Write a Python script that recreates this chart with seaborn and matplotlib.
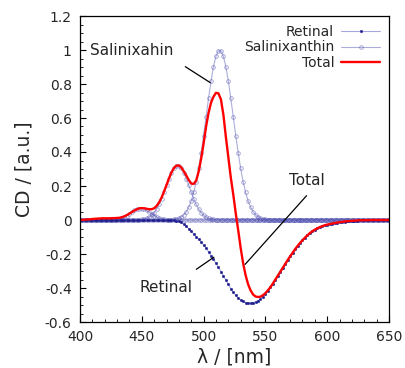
import matplotlib
matplotlib.use("Agg")
import matplotlib.pyplot as plt
import numpy as np
import pandas as pd
import seaborn as sns
from matplotlib.ticker import MultipleLocator, FuncFormatter

# wavelength grid (nm), one point every 2 nm
wavelength = list(range(400, 651, 2))

# Salinixanthin vibronic bands (one row = 20 nm)
sal_band1 = [
    0, 0, 0, 0, 0, 0, 0, 0, 0, 0,                                       # 400
    0, 0, 0, .001, .002, .004, .007, .012, .018, .026,                  # 420
    .036, .046, .056, .063, .067, .067, .063, .056, .046, .036,         # 440
    .026, .018, .012, .007, .004, .002, .001, 0, 0, 0,                  # 460
    0, 0, 0, 0, 0, 0, 0, 0, 0, 0,                                       # 480
    0, 0, 0, 0, 0, 0, 0, 0, 0, 0,                                       # 500
    0, 0, 0, 0, 0, 0, 0, 0, 0, 0,                                       # 520
    0, 0, 0, 0, 0, 0, 0, 0, 0, 0,                                       # 540
    0, 0, 0, 0, 0, 0, 0, 0, 0, 0,                                       # 560
    0, 0, 0, 0, 0, 0, 0, 0, 0, 0,                                       # 580
    0, 0, 0, 0, 0, 0, 0, 0, 0, 0,                                       # 600
    0, 0, 0, 0, 0, 0, 0, 0, 0, 0,                                       # 620
    0, 0, 0, 0, 0, 0,                                                   # 640
]
sal_band2 = [
    0, 0, 0, 0, 0, 0, 0, 0, 0, 0,                                       # 400
    0, 0, 0, 0, 0, 0, 0, 0, 0, 0,                                       # 420
    0, 0, 0, 0, .002, .003, .006, .010, .017, .028,                     # 440
    .043, .065, .092, .125, .164, .204, .244, .279, .304, .318,         # 460
    .318, .304, .279, .244, .204, .164, .125, .092, .065, .043,         # 480
    .028, .017, .010, .006, .003, .002, 0, 0, 0, 0,                     # 500
    0, 0, 0, 0, 0, 0, 0, 0, 0, 0,                                       # 520
    0, 0, 0, 0, 0, 0, 0, 0, 0, 0,                                       # 540
    0, 0, 0, 0, 0, 0, 0, 0, 0, 0,                                       # 560
    0, 0, 0, 0, 0, 0, 0, 0, 0, 0,                                       # 580
    0, 0, 0, 0, 0, 0, 0, 0, 0, 0,                                       # 600
    0, 0, 0, 0, 0, 0, 0, 0, 0, 0,                                       # 620
    0, 0, 0, 0, 0, 0,                                                   # 640
]
sal_band3 = [
    0, 0, 0, 0, 0, 0, 0, 0, 0, 0,                                       # 400
    0, 0, 0, 0, 0, 0, 0, 0, 0, 0,                                       # 420
    0, 0, 0, 0, 0, 0, 0, 0, 0, 0,                                       # 440
    0, 0, 0, 0, 0, 0, 0, .002, .004, .006,                              # 460
    .011, .019, .031, .049, .076, .112, .162, .225, .303, .395,         # 480
    .497, .607, .716, .817, .902, .963, .996, .996, .963, .902,         # 500
    .817, .716, .607, .497, .395, .303, .225, .162, .112, .076,         # 520
    .049, .031, .019, .011, .006, .004, .002, 0, 0, 0,                  # 540
    0, 0, 0, 0, 0, 0, 0, 0, 0, 0,                                       # 560
    0, 0, 0, 0, 0, 0, 0, 0, 0, 0,                                       # 580
    0, 0, 0, 0, 0, 0, 0, 0, 0, 0,                                       # 600
    0, 0, 0, 0, 0, 0, 0, 0, 0, 0,                                       # 620
    0, 0, 0, 0, 0, 0,                                                   # 640
]
retinal = [
    0, 0, 0, 0, 0, 0, 0, 0, 0, 0,                                       # 400
    0, 0, 0, 0, 0, 0, 0, 0, 0, 0,                                       # 420
    0, 0, 0, 0, 0, 0, 0, 0, 0, 0,                                       # 440
    0, 0, 0, 0, 0, 0, 0, -.001, -.002, -.004,                           # 460
    -.008, -.014, -.024, -.036, -.052, -.066, -.082, -.098, -.113, -.129,  # 480
    -.147, -.166, -.187, -.209, -.231, -.255, -.279, -.303, -.328, -.353,  # 500
    -.378, -.403, -.425, -.443, -.458, -.470, -.479, -.486, -.490, -.490,  # 520
    -.487, -.482, -.475, -.465, -.451, -.435, -.416, -.396, -.374, -.351,  # 540
    -.328, -.305, -.282, -.259, -.236, -.214, -.193, -.172, -.153, -.135,  # 560
    -.119, -.104, -.090, -.077, -.066, -.057, -.049, -.042, -.036, -.031,  # 580
    -.027, -.024, -.021, -.018, -.015, -.013, -.011, -.009, -.007, -.006,  # 600
    -.005, -.004, -.003, -.002, -.002, -.001, -.001, -.001, 0, 0,          # 620
    0, 0, 0, 0, 0, 0,                                                      # 640
]
total = [
    0, .001, .002, .003, .004, .006, .007, .008, .009, .010,               # 400
    .010, .010, .010, .011, .011, .012, .013, .017, .022, .029,            # 420
    .038, .047, .056, .063, .069, .070, .069, .066, .063, .064,            # 440
    .069, .083, .104, .132, .168, .206, .245, .280, .306, .320,            # 460
    .321, .309, .286, .262, .235, .215, .212, .232, .285, .360,            # 480
    .450, .550, .630, .690, .725, .748, .745, .710, .620, .490,            # 500
    .370, .250, .150, .040, -.060, -.165, -.255, -.325, -.378, -.414,      # 520
    -.438, -.450, -.453, -.451, -.443, -.430, -.414, -.396, -.374, -.351,  # 540
    -.328, -.305, -.282, -.259, -.236, -.214, -.193, -.172, -.153, -.135,  # 560
    -.119, -.104, -.090, -.077, -.066, -.057, -.049, -.042, -.036, -.031,  # 580
    -.027, -.024, -.021, -.018, -.015, -.013, -.011, -.009, -.007, -.006,  # 600
    -.005, -.004, -.003, -.002, -.002, -.001, -.001, -.001, 0, 0,          # 620
    0, 0, 0, 0, 0, 0,                                                      # 640
]

sal_df = pd.concat([
    pd.DataFrame({"wl": wavelength, "cd": band, "band": i})
    for i, band in enumerate([sal_band1, sal_band2, sal_band3])
])
ret_df = pd.DataFrame({"wl": wavelength, "cd": retinal})
tot_df = pd.DataFrame({"wl": wavelength, "cd": total})

sns.set_theme(style="ticks")
plt.rcParams['font.family'] = ['DejaVu Sans']
plt.rcParams['axes.unicode_minus'] = False

fig = plt.figure(figsize=(4.05, 3.68), dpi=100)
ax = fig.add_axes([80 / 405, 46 / 368, 309 / 405, 306 / 368])

# the three bands overlap on the baseline, so a bit of alpha darkens it there
sns.lineplot(data=sal_df, x="wl", y="cd", units="band", estimator=None,
             color="#6a6ac0", alpha=0.55, lw=0.8, marker="o", markersize=2.6,
             markerfacecolor="none", markeredgecolor="#5050b0",
             markeredgewidth=0.6, label="Salinixanthin", ax=ax)
sns.lineplot(data=ret_df, x="wl", y="cd", color="#a8a8e0", lw=0.8,
             marker="o", markersize=1.8, markerfacecolor="#1c1c8c",
             markeredgecolor="#1c1c8c", markeredgewidth=0.3,
             label="Retinal", ax=ax)
sns.lineplot(data=tot_df, x="wl", y="cd", color="red", lw=1.7,
             label="Total", ax=ax)

# legend: one entry per series, text on the left
handles, labels = ax.get_legend_handles_labels()
uniq = dict(zip(labels, handles))
order = ["Retinal", "Salinixanthin", "Total"]
ax.legend([uniq[k] for k in order], order, loc="upper right", frameon=False,
          markerfirst=False, fontsize=10, handlelength=2.8,
          labelspacing=0.1, borderaxespad=0.25, handletextpad=0.5)

# callouts
ax.annotate("", xy=(505.4, 0.808), xytext=(485.2, 0.902),
            arrowprops=dict(arrowstyle="-", color="black", lw=0.9,
                            shrinkA=0, shrinkB=0))
ax.annotate("", xy=(533.6, -0.261), xytext=(583.3, 0.143),
            arrowprops=dict(arrowstyle="-", color="black", lw=0.9,
                            shrinkA=0, shrinkB=0))
ax.annotate("", xy=(508.3, -0.219), xytext=(494.1, -0.29),
            arrowprops=dict(arrowstyle="-", color="black", lw=0.9,
                            shrinkA=0, shrinkB=0))
ax.text(408, 0.97, "Salinixahin", fontsize=11, va="baseline")
ax.text(569.4, 0.206, "Total", fontsize=11, va="baseline")
ax.text(447.8, -0.425, "Retinal", fontsize=11, va="baseline")

ax.set_xlim(400, 650)
ax.set_ylim(-0.6, 1.2)
ax.xaxis.set_major_locator(MultipleLocator(50))
ax.xaxis.set_minor_locator(MultipleLocator(10))
ax.yaxis.set_major_locator(MultipleLocator(0.2))
ax.yaxis.set_minor_locator(MultipleLocator(0.05))
ax.yaxis.set_major_formatter(FuncFormatter(lambda v, p: "%g" % round(v, 2)))
ax.tick_params(which="both", direction="in", top=False, right=False,
               labelsize=10, pad=6, color="black")
ax.tick_params(which="major", length=4, width=0.8)
ax.tick_params(which="minor", length=2.2, width=0.6)
for s in ax.spines.values():
    s.set_visible(True)
    s.set_color("black")
    s.set_linewidth(0.9)

ax.set_xlabel("λ / [nm]", fontsize=13.5, labelpad=2)
ax.set_ylabel("CD / [a.u.]", fontsize=13.5, labelpad=8)

fig.savefig("out.png", dpi=100)
